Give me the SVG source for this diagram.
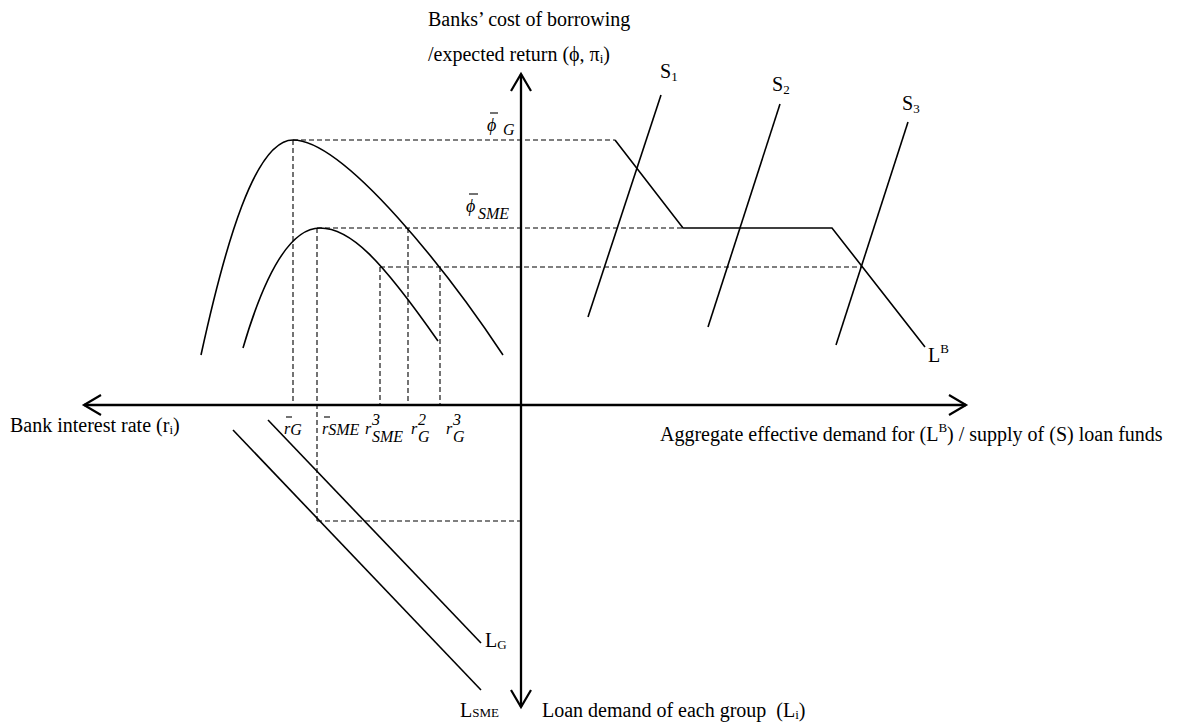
<svg xmlns="http://www.w3.org/2000/svg" width="1200" height="723" viewBox="0 0 1200 723">
<style>
  .t { font-family: "Liberation Serif", "Times New Roman", serif; font-size: 20px; fill: #000; }
  .it { font-family: "Liberation Serif", "Times New Roman", serif; font-style: italic; font-size: 16px; fill: #000; }
  .sm { font-size: 13px; }
  .axis { stroke: #000; stroke-width: 2.3; fill: none; }
  .curve { stroke: #000; stroke-width: 1.6; fill: none; }
  .dash { stroke: #000; stroke-width: 1.1; stroke-dasharray: 5 3; fill: none; }
  .bar { stroke: #000; stroke-width: 1.1; }
</style>
<defs>
  <marker id="chev" markerUnits="userSpaceOnUse" markerWidth="24" markerHeight="24" viewBox="-20 -12 24 24" refX="0" refY="0" orient="auto-start-reverse">
    <path d="M-17,-10 L0,0 L-17,10" fill="none" stroke="#000" stroke-width="2.2"/>
  </marker>
</defs>
<rect width="1200" height="723" fill="#fff"/>

<g id="connectors">
  <line id="x-axis" class="axis" x1="84" y1="405" x2="966" y2="405" marker-start="url(#chev)" marker-end="url(#chev)"/>
  <line id="y-axis" class="axis" x1="521" y1="74" x2="521" y2="707" marker-start="url(#chev)" marker-end="url(#chev)"/>
  <g id="dashes">
    <line class="dash" x1="293" y1="140" x2="615" y2="140"/>
    <line class="dash" x1="293" y1="140" x2="293" y2="405"/>
    <line class="dash" x1="317" y1="228" x2="683" y2="228"/>
    <line class="dash" x1="317" y1="228" x2="317" y2="521"/>
    <line class="dash" x1="408" y1="228" x2="408" y2="405"/>
    <line class="dash" x1="380" y1="267" x2="862" y2="267"/>
    <line class="dash" x1="380" y1="267" x2="380" y2="405"/>
    <line class="dash" x1="440" y1="267" x2="440" y2="405"/>
    <line class="dash" x1="317" y1="521" x2="521" y2="521"/>
  </g>
</g>

<g id="curve-G">
  <path class="curve" d="M201,355 C225,245 255,140 293,140 C345,140 450,275 503,355"/>
</g>
<g id="curve-SME">
  <path class="curve" d="M243,348 C260,290 285,228 320,228 C350,228 380,258 438,341"/>
</g>
<g id="LB">
  <polyline class="curve" points="615,140 683,228 832,228 925,347"/>
  <text class="t" x="928" y="362">L<tspan class="sm" dy="-9">B</tspan></text>
</g>
<g id="S1">
  <line class="curve" x1="588" y1="317" x2="661" y2="95"/>
  <text class="t" x="660" y="78">S<tspan class="sm" dy="3">1</tspan></text>
</g>
<g id="S2">
  <line class="curve" x1="708" y1="327" x2="780" y2="104"/>
  <text class="t" x="772" y="91">S<tspan class="sm" dy="3">2</tspan></text>
</g>
<g id="S3">
  <line class="curve" x1="836" y1="345" x2="908" y2="122"/>
  <text class="t" x="902" y="110">S<tspan class="sm" dy="3">3</tspan></text>
</g>
<g id="LG">
  <line class="curve" x1="268" y1="420" x2="481" y2="643"/>
  <text class="t" x="485" y="647">L<tspan class="sm" dy="2">G</tspan></text>
</g>
<g id="LSME">
  <line class="curve" x1="233" y1="430" x2="481" y2="690"/>
  <text class="t" x="460" y="717">L<tspan class="sm">SME</tspan></text>
</g>

<g id="y-label">
  <text class="t" x="428" y="26">Banks’ cost of borrowing</text>
  <text class="t" x="428" y="61">/expected return (ϕ, π<tspan class="sm" dy="2">i</tspan><tspan dy="-2">)</tspan></text>
</g>
<g id="x-label-left">
  <text class="t" x="10" y="432">Bank interest rate (r<tspan class="sm" dy="2">i</tspan><tspan dy="-2">)</tspan></text>
</g>
<g id="x-label-right">
  <text class="t" x="660" y="441">Aggregate effective demand for (L<tspan class="sm" dy="-9">B</tspan><tspan dy="9">) / supply of (S) loan funds</tspan></text>
</g>
<g id="y-label-bottom">
  <text class="t" x="542" y="717">Loan demand of each group&#160; (L<tspan class="sm" dy="2">i</tspan><tspan dy="-2">)</tspan></text>
</g>

<g id="phi-G">
  <line class="bar" x1="490" y1="113" x2="498" y2="113"/>
  <text class="it" x="487" y="131" style="font-size:18px">ϕ</text>
  <text class="it" x="503" y="135">G</text>
</g>
<g id="phi-SME">
  <line class="bar" x1="469" y1="194" x2="478" y2="194"/>
  <text class="it" x="466" y="212" style="font-size:18px">ϕ</text>
  <text class="it" x="478" y="219">SME</text>
</g>

<g id="r-G-bar">
  <line class="bar" x1="286" y1="417" x2="292" y2="417"/>
  <text class="it" x="284" y="434">r<tspan dy="1">G</tspan></text>
</g>
<g id="r-SME-bar">
  <line class="bar" x1="324" y1="417" x2="330" y2="417"/>
  <text class="it" x="322" y="434">r<tspan dy="1">SME</tspan></text>
</g>
<g id="r-SME-3">
  <text class="it" x="365" y="434">r</text>
  <text class="it" x="372" y="425">3</text>
  <text class="it" x="372" y="442">SME</text>
</g>
<g id="r-G-2">
  <text class="it" x="411" y="434">r</text>
  <text class="it" x="418" y="425">2</text>
  <text class="it" x="418" y="442">G</text>
</g>
<g id="r-G-3">
  <text class="it" x="446" y="434">r</text>
  <text class="it" x="453" y="425">3</text>
  <text class="it" x="453" y="442">G</text>
</g>
</svg>
